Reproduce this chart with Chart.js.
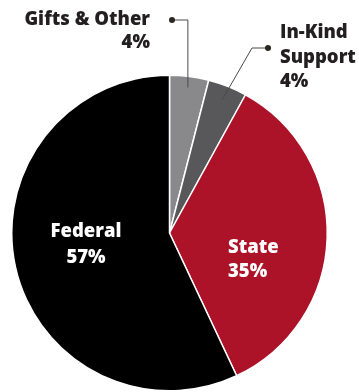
<!DOCTYPE html>
<html>
<head>
<meta charset="utf-8">
<script src="https://cdn.jsdelivr.net/npm/chart.js@4"></script>
<style>
    body { margin: 0; background: #fff; }
    canvas { display: block; }
</style>
</head>
<body>
<canvas id="dijagram-izvori" width="359" height="392"></canvas>
<script>
const kategorije = ['Gifts & Other', 'In-Kind Support', 'State', 'Federal'];
const postoci = [4, 4, 35, 57];
const boje = ['#89898b', '#58585a', '#ad1328', '#000000'];
const oznake = ['4%', '4%', '35%', '57%'];

document.addEventListener('DOMContentLoaded', function() {
    const font = '800 18.5px "Open Sans"';

    function crtajTekst(ctx, linije, x, y, razmak, poravnanje, boja) {
        ctx.fillStyle = boja;
        ctx.textAlign = poravnanje;
        ctx.textBaseline = 'alphabetic';
        linije.forEach(function(l, i) {
            ctx.fillText(l, x, y + i * razmak);
        });
    }

    // tocka na luku, kut mjeren od vrha u smjeru kazaljke
    function tockaNaLuku(arc, udio) {
        const kut = (arc.startAngle + arc.endAngle) / 2;
        const r = arc.outerRadius * udio;
        return { x: arc.x + Math.cos(kut) * r, y: arc.y + Math.sin(kut) * r };
    }

    function pokazivac(ctx, tocke) {
        ctx.strokeStyle = '#4a4a4a';
        ctx.lineWidth = 1;
        ctx.beginPath();
        ctx.moveTo(tocke[0].x, tocke[0].y);
        for (let i = 1; i < tocke.length; i++) ctx.lineTo(tocke[i].x, tocke[i].y);
        ctx.stroke();
        ctx.fillStyle = '#2b2622';
        ctx.beginPath();
        ctx.arc(tocke[0].x, tocke[0].y, 3, 0, Math.PI * 2);
        ctx.fill();
    }

    const oznakePlugin = {
        id: 'oznake',
        afterDatasetsDraw(chart) {
            const ctx = chart.ctx;
            const lukovi = chart.getDatasetMeta(0).data;
            ctx.save();
            ctx.font = font;

            // Gifts & Other
            const k0 = tockaNaLuku(lukovi[0], 0.93);
            pokazivac(ctx, [{ x: 172, y: 20 }, { x: k0.x, y: 20 }, k0]);
            crtajTekst(ctx, [kategorije[0], oznake[0]], 150, 25, 23, 'right', '#231f20');

            // In-Kind Support
            const k1 = tockaNaLuku(lukovi[1], 0.91);
            pokazivac(ctx, [{ x: 268, y: 48 }, { x: 252, y: 48 }, k1]);
            crtajTekst(ctx, ['In-Kind', 'Support', oznake[1]], 280, 38, 24.5, 'left', '#231f20');

            // State
            crtajTekst(ctx, [kategorije[2], oznake[2]], 228, 253, 24, 'left', '#ffffff');

            // Federal
            crtajTekst(ctx, [kategorije[3], oznake[3]], 86, 237, 26, 'center', '#ffffff');

            ctx.restore();
        }
    };

    const ctxIzvori = document.getElementById('dijagram-izvori').getContext('2d');
    new Chart(ctxIzvori, {
        type: 'pie',
        data: {
            labels: kategorije,
            datasets: [{
                data: postoci,
                backgroundColor: boje,
                borderColor: '#ffffff',
                borderWidth: 1.5
            }]
        },
        options: {
            responsive: false,
            animation: false,
            layout: {
                padding: { left: 11, right: 31, top: 74, bottom: 0 }
            },
            plugins: {
                legend: { display: false },
                tooltip: { enabled: false }
            }
        },
        plugins: [oznakePlugin]
    });
});
</script>
</body>
</html>
